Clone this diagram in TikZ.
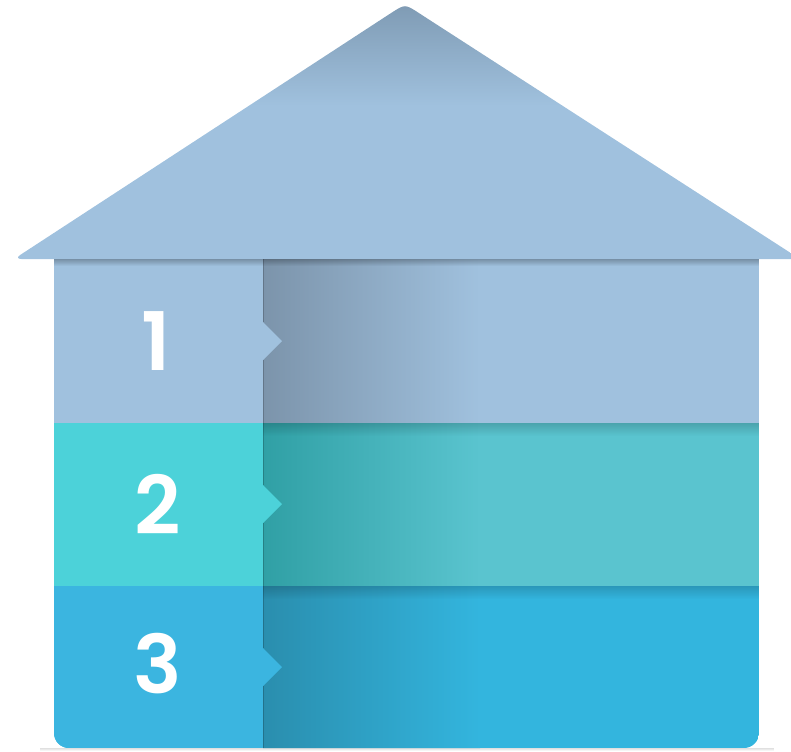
\documentclass[tikz,border=0pt]{standalone}
\usepackage{fontspec}
\setmainfont{Poppins}[BoldFont={Poppins SemiBold}]
\usepackage{tikz}
\usetikzlibrary{fadings}

\definecolor{roofblue}{HTML}{A0C1DE}
\definecolor{rooftop}{HTML}{7F9BB4}
\definecolor{tabone}{HTML}{A0C1DE}
\definecolor{bandone}{HTML}{A0C1DE}
\definecolor{seamone}{HTML}{7C94AB}
\definecolor{tabtwo}{HTML}{4CD2D9}
\definecolor{bandtwo}{HTML}{5AC4CF}
\definecolor{seamtwo}{HTML}{30A0A5}
\definecolor{tabthree}{HTML}{3BB5E0}
\definecolor{bandthree}{HTML}{33B5DE}
\definecolor{seamthree}{HTML}{2A8EAE}

\pgfdeclareverticalshading{roofshade}{100bp}{
  color(0bp)=(roofblue); color(55bp)=(roofblue);
  color(75bp)=(rooftop); color(100bp)=(rooftop)}

\begin{document}
\begin{tikzpicture}[
  x=0.02cm, y=-0.02cm,
  num/.style={
    text=white,
    font=\fontsize{46}{46}\selectfont\bfseries,
    inner sep=0pt,
  },
  topshadow/.style={
    fill=black,
    fill opacity=#1,
    path fading=south,
  },
  topshadow/.default=0.16,
  seamline/.style={draw=#1, line width=0.5pt},
]

\useasboundingbox (0,0) rectangle (791,751);

% ── Roof ──
\shade[shading=roofshade, rounded corners=0.15cm]
  (14,259) -- (385,17) .. controls (405,4) .. (425,17) -- (800,259) -- cycle;

% ── Row 1 ──
\fill[bandone] (54,259) rectangle (759,423);
\shade[left color=seamone, right color=bandone] (263,259) rectangle (480,423);
\fill[tabone] (54,259) rectangle (263,423);
\fill[tabone] (263,322) -- (282,341) -- (263,360) -- cycle;
\draw[seamline=seamone!80!black] (263,259) -- (263,322);
\draw[seamline=seamone!80!black] (263,360) -- (263,423);
\fill[topshadow=0.25] (54,259) rectangle (759,266);
\node[num] (n1) at (156,341) {1};

% ── Row 2 ──
\fill[bandtwo] (54,423) rectangle (759,586);
\shade[left color=seamtwo, right color=bandtwo] (263,423) rectangle (480,586);
\fill[tabtwo] (54,423) rectangle (263,586);
\fill[tabtwo] (263,485) -- (282,504) -- (263,523) -- cycle;
\draw[seamline=seamtwo!80!black] (263,423) -- (263,485);
\draw[seamline=seamtwo!80!black] (263,523) -- (263,586);
\fill[topshadow] (263,423) rectangle (759,436);
\node[num] (n2) at (158,504) {2};

% ── Row 3 (rounded bottom) ──
\begin{scope}
  \clip[rounded corners=0.3cm] (54,560) rectangle (759,748);
  \fill[bandthree] (54,586) rectangle (759,748);
  \shade[left color=seamthree, right color=bandthree] (263,586) rectangle (480,748);
  \fill[tabthree] (54,586) rectangle (263,748);
  \fill[tabthree] (263,648) -- (282,667) -- (263,686) -- cycle;
  \draw[seamline=seamthree!80!black] (263,586) -- (263,648);
  \draw[seamline=seamthree!80!black] (263,686) -- (263,748);
  \fill[topshadow] (263,586) rectangle (759,599);
\end{scope}
\node[num] (n3) at (158,664) {3};

% ── Ground shadow ──
\fill[topshadow=0.12] (40,748) rectangle (775,751);

\end{tikzpicture}
\end{document}
